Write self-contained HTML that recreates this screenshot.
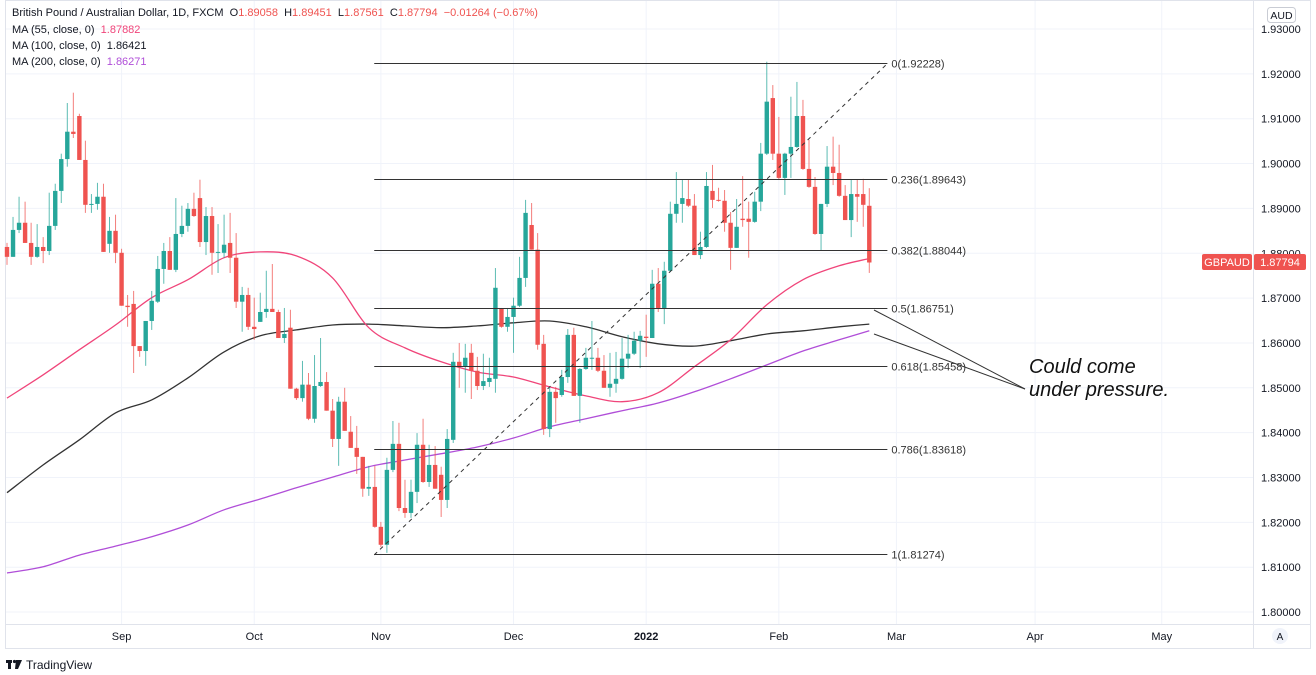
<!DOCTYPE html>
<html><head><meta charset="utf-8">
<style>
body{margin:0;background:#fff;width:1316px;height:675px;overflow:hidden;font-family:"Liberation Sans",sans-serif;}
svg{display:block}
</style></head>
<body>
<svg id="chart" width="1316" height="675" xmlns="http://www.w3.org/2000/svg" font-family="Liberation Sans, sans-serif"></svg>
<script>
const opens=[1.8814,1.8792,1.8852,1.8868,1.8823,1.8792,1.8814,1.8805,1.8861,1.8939,1.9010,1.9071,1.9106,1.9008,1.8908,1.8910,1.8926,1.8821,1.8850,1.8801,1.8683,1.8687,1.8593,1.8582,1.8649,1.8692,1.8765,1.8805,1.8763,1.8843,1.8861,1.8899,1.8923,1.8825,1.8883,1.8801,1.8801,1.8823,1.8790,1.8692,1.8707,1.8636,1.8647,1.8669,1.8676,1.8669,1.8611,1.8634,1.8498,1.8477,1.8507,1.8431,1.8504,1.8513,1.8449,1.8386,1.8469,1.8402,1.8366,1.8346,1.8275,1.8279,1.8190,1.8150,1.8317,1.8375,1.8232,1.8221,1.8268,1.8373,1.8290,1.8328,1.8306,1.8250,1.8384,1.8558,1.8547,1.8578,1.8538,1.8504,1.8513,1.8520,1.8676,1.8636,1.8658,1.8683,1.8745,1.8863,1.8808,1.8598,1.8408,1.8491,1.8484,1.8524,1.8618,1.8482,1.8542,1.8565,1.8567,1.8538,1.8500,1.8509,1.8520,1.8565,1.8576,1.8605,1.8614,1.8611,1.8732,1.8678,1.8761,1.8888,1.8910,1.8921,1.8906,1.8796,1.8814,1.8939,1.8919,1.8917,1.8868,1.8812,1.8877,1.8877,1.8870,1.8915,1.9022,1.9146,1.9022,1.8968,1.9022,1.9037,1.9106,1.8988,1.8948,1.8843,1.8910,1.8993,1.8979,1.8928,1.8874,1.8932,1.8932,1.89058];
const closes=[1.8792,1.8852,1.8868,1.8823,1.8792,1.8814,1.8805,1.8861,1.8939,1.9010,1.9071,1.9066,1.9008,1.8908,1.8910,1.8926,1.8803,1.8850,1.8801,1.8683,1.8680,1.8593,1.8582,1.8649,1.8694,1.8765,1.8805,1.8763,1.8843,1.8861,1.8899,1.8883,1.8825,1.8883,1.8801,1.8803,1.8819,1.8790,1.8692,1.8707,1.8636,1.8631,1.8669,1.8676,1.8669,1.8611,1.8620,1.8498,1.8477,1.8507,1.8431,1.8504,1.8513,1.8449,1.8386,1.8469,1.8404,1.8366,1.8346,1.8275,1.8279,1.8190,1.8150,1.8317,1.8375,1.8232,1.8221,1.8268,1.8373,1.8290,1.8328,1.8275,1.8250,1.8386,1.8558,1.8547,1.8567,1.8538,1.8504,1.8515,1.8522,1.8723,1.8636,1.8658,1.8683,1.8745,1.8890,1.8808,1.8596,1.8408,1.8491,1.8477,1.8524,1.8618,1.8482,1.8542,1.8567,1.8567,1.8538,1.8500,1.8509,1.8520,1.8565,1.8576,1.8605,1.8616,1.8611,1.8732,1.8678,1.8761,1.8888,1.8910,1.8923,1.8906,1.8796,1.8814,1.8950,1.8919,1.8917,1.8868,1.8812,1.8859,1.8874,1.8870,1.8915,1.9022,1.9138,1.9022,1.8968,1.9022,1.9037,1.9106,1.8988,1.8948,1.8843,1.8910,1.8993,1.8979,1.8928,1.8874,1.8932,1.8926,1.8908,1.87794];
const highs=[1.8823,1.8881,1.8926,1.8915,1.8868,1.8865,1.8836,1.8935,1.8955,1.9022,1.9135,1.9158,1.9111,1.9051,1.8932,1.8957,1.8955,1.8881,1.8886,1.8810,1.8707,1.8716,1.8593,1.8649,1.8716,1.8794,1.8823,1.8836,1.8923,1.8906,1.8912,1.8935,1.8964,1.8903,1.8903,1.8865,1.8886,1.8890,1.8845,1.8725,1.8723,1.8701,1.8712,1.8761,1.8776,1.8674,1.8678,1.8674,1.8500,1.8560,1.8533,1.8573,1.8611,1.8535,1.8475,1.8480,1.8500,1.8437,1.8415,1.8346,1.8326,1.8326,1.8201,1.8344,1.8426,1.8422,1.8295,1.8295,1.8399,1.8431,1.8373,1.8370,1.8324,1.8408,1.8578,1.8600,1.8598,1.8598,1.8569,1.8576,1.8567,1.8767,1.8678,1.8678,1.8701,1.8792,1.8919,1.8912,1.8845,1.8618,1.8500,1.8502,1.8540,1.8631,1.8634,1.8544,1.8589,1.8649,1.8589,1.8573,1.8578,1.8580,1.8611,1.8618,1.8625,1.8627,1.8663,1.8763,1.8767,1.8781,1.8915,1.8981,1.8964,1.8964,1.8932,1.8848,1.8981,1.8997,1.8946,1.8941,1.8892,1.8921,1.8972,1.8915,1.8937,1.9046,1.9227,1.9175,1.9104,1.9024,1.9149,1.9182,1.9142,1.9053,1.8970,1.8910,1.9039,1.9060,1.9042,1.8952,1.8964,1.8964,1.8966,1.89451];
const lows=[1.8774,1.8792,1.8845,1.8823,1.8774,1.8790,1.8778,1.8796,1.8852,1.8912,1.8993,1.9057,1.9008,1.8890,1.8890,1.8897,1.8803,1.8801,1.8778,1.8683,1.8636,1.8533,1.8569,1.8549,1.8629,1.8689,1.8732,1.8763,1.8758,1.8836,1.8848,1.8881,1.8814,1.8796,1.8752,1.8756,1.8790,1.8756,1.8678,1.8625,1.8629,1.8607,1.8647,1.8656,1.8669,1.8611,1.8600,1.8498,1.8473,1.8469,1.8428,1.8422,1.8502,1.8449,1.8368,1.8326,1.8404,1.8366,1.8308,1.8257,1.8259,1.8188,1.8145,1.8132,1.8312,1.8225,1.8210,1.8210,1.8243,1.8288,1.8279,1.8275,1.8212,1.8232,1.8377,1.8500,1.8489,1.8475,1.8495,1.8495,1.8502,1.8489,1.8634,1.8625,1.8578,1.8680,1.8725,1.8808,1.8585,1.8395,1.8390,1.8422,1.8480,1.8511,1.8482,1.8422,1.8540,1.8540,1.8535,1.8500,1.8480,1.8489,1.8518,1.8544,1.8573,1.8544,1.8569,1.8611,1.8669,1.8642,1.8758,1.8868,1.8868,1.8903,1.8796,1.8787,1.8812,1.8901,1.8915,1.8848,1.8763,1.8812,1.8859,1.8790,1.8868,1.8894,1.9019,1.9008,1.8964,1.8930,1.8968,1.9035,1.8986,1.8946,1.8841,1.8805,1.8903,1.8952,1.8926,1.8874,1.8836,1.8870,1.8859,1.87561];
// moving averages sampled every 6 bars (last sample = last bar)
const maBars=[0,6,12,18,24,30,36,42,48,54,60,66,72,78,84,90,96,102,108,114,120,126,132,138,143];
const ma55=[1.8477,1.8529,1.8585,1.8640,1.8701,1.8741,1.8790,1.8803,1.8794,1.8745,1.8634,1.8589,1.8558,1.8535,1.8524,1.8502,1.8482,1.8469,1.8489,1.8547,1.8607,1.8685,1.8741,1.8772,1.87882];
const ma100=[1.8266,1.8328,1.8384,1.8444,1.8473,1.8522,1.8580,1.8616,1.8629,1.8640,1.8642,1.8638,1.8634,1.8638,1.8645,1.8649,1.8636,1.8614,1.8598,1.8593,1.8605,1.8620,1.8627,1.8636,1.86421];
const ma200=[1.8087,1.8101,1.8127,1.8147,1.8168,1.8194,1.8228,1.8252,1.8277,1.8301,1.8324,1.8339,1.8353,1.8368,1.8388,1.8413,1.8431,1.8449,1.8466,1.8491,1.8520,1.8551,1.8582,1.8607,1.86271];
const priceTicks=[1.93,1.92,1.91,1.90,1.89,1.88,1.87,1.86,1.85,1.84,1.83,1.82,1.81,1.80];
const monthLabels=["Sep","Oct","Nov","Dec","2022","Feb","Mar","Apr","May"];
const monthBars=[19,41,62,84,106,128,147.5,170.5,191.5];
const fibLevels=[0,0.236,0.382,0.5,0.618,0.786,1];
const fibHigh=1.92228, fibLow=1.81274;
const fibStartBar=60.9, fibEndBar=146;

const NS="http://www.w3.org/2000/svg";
const svg=document.getElementById('chart');
const Y=p=>29+(1.93-p)*4485;
const X=i=>7+i*6.03;
function el(tag,attrs,parent){const e=document.createElementNS(NS,tag);for(const k in attrs)e.setAttribute(k,attrs[k]);(parent||svg).appendChild(e);return e;}

const frame=el('rect',{x:5.5,y:0.5,width:1305,height:648,fill:'none',stroke:'#e0e3eb'});


const grid=el('g',{});


priceTicks.forEach(p=>{el('line',{x1:6,x2:1253,y1:Y(p),y2:Y(p),stroke:'#f0f3fa'},grid);});
monthBars.forEach(b=>{el('line',{x1:X(b),x2:X(b),y1:1,y2:624,stroke:'#f0f3fa'},grid);});
const yAxis=el('g',{});


el('line',{x1:1253.5,x2:1253.5,y1:0,y2:649,stroke:'#e0e3eb'},yAxis);
priceTicks.forEach(p=>{const t=el('text',{x:1261,y:Y(p)+4,'font-size':11,fill:'#131722'},yAxis);t.textContent=p.toFixed(5);

});
const xAxis=el('g',{});


el('line',{x1:5,x2:1311,y1:624.5,y2:624.5,stroke:'#e0e3eb'},xAxis);
monthLabels.forEach((m,i)=>{const t=el('text',{x:X(monthBars[i]),y:640,'font-size':11,'text-anchor':'middle',fill:'#131722','font-weight':m==='2022'?'bold':'normal'},xAxis);t.textContent=m;

});

function maPath(vals,color,name){
 const pts=vals.map((v,i)=>[X(maBars[i]),Y(v)]);
 let d='M'+pts[0][0].toFixed(1)+' '+pts[0][1].toFixed(1);
 for(let i=0;i<pts.length-1;i++){
  const p0=pts[Math.max(0,i-1)],p1=pts[i],p2=pts[i+1],p3=pts[Math.min(pts.length-1,i+2)];
  const c1=[p1[0]+(p2[0]-p0[0])/6,p1[1]+(p2[1]-p0[1])/6];
  const c2=[p2[0]-(p3[0]-p1[0])/6,p2[1]-(p3[1]-p1[1])/6];
  d+=' C'+c1[0].toFixed(1)+' '+c1[1].toFixed(1)+' '+c2[0].toFixed(1)+' '+c2[1].toFixed(1)+' '+p2[0].toFixed(1)+' '+p2[1].toFixed(1);
 }
 const p=el('path',{d:d,fill:'none',stroke:color,'stroke-width':1.3,'stroke-linejoin':'round'});
 
 }
maPath(ma200,'#b04ed8','ma-200-line');
maPath(ma100,'#333','ma-100-line');
maPath(ma55,'#f0457a','ma-55-line');

const cg=el('g',{});


for(let i=0;i<opens.length;i++){
 const up=closes[i]>=opens[i];const col=up?'#26a69a':'#ef5350';const x=X(i);
 const g=el('g',{},cg);
 
 
 el('line',{x1:x,x2:x,y1:Y(highs[i]),y2:Y(lows[i]),stroke:col,'stroke-width':1,opacity:0.75},g);
 const top=Y(Math.max(opens[i],closes[i])),bot=Y(Math.min(opens[i],closes[i]));
 el('rect',{x:x-2.2,y:top,width:4.4,height:Math.max(1,bot-top),fill:col},g);
}

const fg=el('g',{});


fibLevels.forEach(l=>{const p=fibHigh-(fibHigh-fibLow)*l;const y=Math.round(Y(p))-0.5;
 el('line',{x1:X(fibStartBar),x2:X(fibEndBar),y1:y,y2:y,stroke:'#333','stroke-width':1},fg);
 const t=el('text',{x:X(fibEndBar)+4,y:y+4,'font-size':11,fill:'#333'},fg);t.textContent=l+'('+p.toFixed(5)+')';
 
 });
const diag=el('line',{x1:X(fibStartBar),y1:Y(fibLow),x2:X(fibEndBar),y2:Y(fibHigh),stroke:'#333','stroke-dasharray':'4 4','stroke-width':1});



const ag=el('g',{});


el('line',{x1:874,y1:310,x2:1025,y2:389,stroke:'#333'},ag);
el('line',{x1:874,y1:334,x2:1025,y2:389,stroke:'#333'},ag);
const a1=el('text',{x:1029,y:373,'font-size':20,'font-style':'italic',fill:'#111'},ag);a1.textContent='Could come';
const a2=el('text',{x:1029,y:396,'font-size':20,'font-style':'italic',fill:'#111'},ag);a2.textContent='under pressure.';

const tag=el('g',{});


el('rect',{x:1202,y:254,width:50,height:16,rx:2,fill:'#ef5350'},tag);
el('rect',{x:1254,y:254,width:52,height:16,rx:2,fill:'#ef5350'},tag);
const t1=el('text',{x:1227,y:266,'font-size':11,'text-anchor':'middle',fill:'#fff'},tag);t1.textContent='GBPAUD';
const t2=el('text',{x:1280,y:266,'font-size':11,'text-anchor':'middle',fill:'#fff'},tag);t2.textContent=closes[closes.length-1].toFixed(5);

const aud=el('g',{});


el('rect',{x:1267.5,y:7.5,width:28,height:15,rx:3,fill:'#fff',stroke:'#c9ccd4'},aud);
const at=el('text',{x:1281.5,y:19,'font-size':10.5,'text-anchor':'middle',fill:'#131722'},aud);at.textContent='AUD';
const ab=el('g',{});


el('circle',{cx:1280,cy:636,r:8,fill:'#f0f3fa'},ab);
const abt=el('text',{x:1280,y:640,'font-size':10,'text-anchor':'middle',fill:'#131722'},ab);abt.textContent='A';

const lg=el('g',{'font-size':11});


const l1=el('text',{x:12,y:16,fill:'#131722'},lg);
l1.innerHTML='British Pound / Australian Dollar, 1D, FXCM  O<tspan fill="#ef5350">1.89058</tspan>  H<tspan fill="#ef5350">1.89451</tspan>  L<tspan fill="#ef5350">1.87561</tspan>  C<tspan fill="#ef5350">1.87794  −0.01264 (−0.67%)</tspan>';
l1.style.whiteSpace='pre';
const l2=el('text',{x:12,y:33,fill:'#131722'},lg);l2.innerHTML='MA (55, close, 0)  <tspan fill="#f0457a">1.87882</tspan>';l2.style.whiteSpace='pre';
const l3=el('text',{x:12,y:49,fill:'#131722'},lg);l3.innerHTML='MA (100, close, 0)  <tspan fill="#131722">1.86421</tspan>';l3.style.whiteSpace='pre';
const l4=el('text',{x:12,y:65,fill:'#131722'},lg);l4.innerHTML='MA (200, close, 0)  <tspan fill="#b04ed8">1.86271</tspan>';l4.style.whiteSpace='pre';

const logo=el('g',{});


el('rect',{x:6,y:660,width:6,height:3,fill:'#131722'},logo);
el('rect',{x:8,y:660,width:3,height:9,fill:'#131722'},logo);
el('circle',{cx:14.5,cy:661.5,r:1.6,fill:'#131722'},logo);
el('path',{d:'M16 660 L22 660 L18 669 L15 669 Z',fill:'#131722'},logo);
const lt=el('text',{x:26,y:669,'font-size':12,fill:'#131722'},logo);lt.textContent='TradingView';
</script>
</body></html>
